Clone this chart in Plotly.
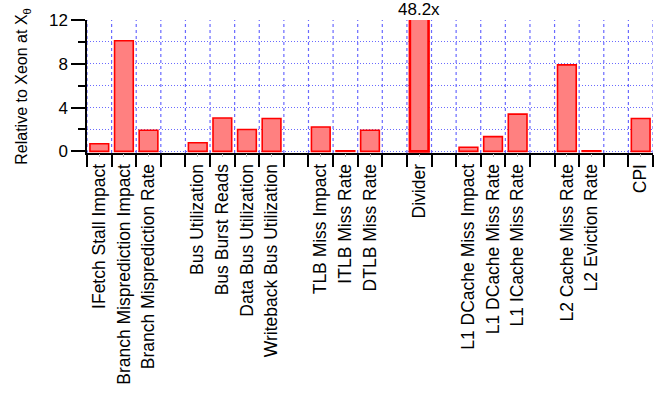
import plotly.graph_objects as go

categories = ["IFetch Stall Impact", "Branch Misprediction Impact", "Branch Misprediction Rate", "",
              "Bus Utilization", "Bus Burst Reads", "Data Bus Utilization", "Writeback Bus Utilization", "",
              "TLB Miss Impact", "ITLB Miss Rate", "DTLB Miss Rate", "",
              "Divider", "",
              "L1 DCache Miss Impact", "L1 DCache Miss Rate", "L1 ICache Miss Rate", "",
              "L2 Cache Miss Rate", "L2 Eviction Rate", "",
              "CPI"]
values = [0.7, 10.1, 1.93, None,
          0.78, 3.05, 2.0, 3.0, None,
          2.23, 0.05, 1.93, None,
          48.2, None,
          0.37, 1.35, 3.4, None,
          7.9, 0.05, None,
          3.0]
y_ticks = [0, 4, 8, 12]
divider_label = "48.2x"

font = "Liberation Sans, Arial, Helvetica, sans-serif"
grid = "#6a6aff"
gdash = "1px,2px"

n = len(categories)
positions = list(range(n))
label_pos = [i for i, c in enumerate(categories) if c]
label_txt = [c for c in categories if c]
boundaries = [i - 0.5 for i in range(n + 1)]
divider_x = categories.index("Divider")
xrange = [-0.5, n - 0.5]
yrange = [-0.15, 12]

line_widths = [2.6 if c == "Divider" else 1.6 for c in categories]

# vertical category-boundary grid lines, drawn behind the bars
gx, gy = [], []
for b in boundaries:
    gx += [b, b, None]
    gy += [yrange[0], yrange[1], None]

fig = go.Figure()
fig.add_trace(go.Scatter(
    x=gx, y=gy, mode="lines", line=dict(color=grid, width=1.2, dash="dot"),
    showlegend=False, hoverinfo="skip", xaxis="x", yaxis="y",
))
fig.add_trace(go.Bar(
    x=positions, y=values, width=0.76,
    marker=dict(color="#FF8080", line=dict(color="#FF0000", width=line_widths)),
    showlegend=False, xaxis="x", yaxis="y",
))
# invisible helper trace so that the label axis is drawn
fig.add_trace(go.Scatter(
    x=positions, y=[None] * n, mode="markers", showlegend=False,
    hoverinfo="skip", xaxis="x2", yaxis="y",
))
fig.add_annotation(x=divider_x, y=12, text=divider_label, showarrow=False,
                   yanchor="bottom", yshift=-1, font=dict(size=17, color="black", family=font))

fig.update_layout(
    width=667, height=396,
    margin=dict(l=87, r=14, t=20, b=243, autoexpand=False),
    plot_bgcolor="white", paper_bgcolor="white",
    font=dict(family=font, size=17, color="black"),
    xaxis=dict(
        range=xrange, automargin=False,
        tickmode="array", tickvals=boundaries, showticklabels=False,
        ticks="outside", ticklen=12, tickwidth=1.5, tickcolor="black",
        showline=True, linecolor="black", linewidth=1.5,
        showgrid=False, zeroline=False,
    ),
    xaxis2=dict(
        range=xrange, automargin=False, overlaying="x", side="bottom", anchor="y",
        tickmode="array", tickvals=label_pos, ticktext=label_txt,
        ticks="outside", ticklen=3, tickwidth=1, tickcolor="#bbbbbb",
        showline=False, showgrid=False, zeroline=False,
        tickangle=-90, tickfont=dict(size=17.5),
    ),
    yaxis=dict(
        range=yrange, tickvals=y_ticks, automargin=False,
        ticks="outside", ticklen=14, tickwidth=1.5, tickcolor="black",
        showline=True, linecolor="black", linewidth=1.5,
        showgrid=True, gridcolor=grid, griddash=gdash, gridwidth=1,
        zeroline=False,
        minor=dict(dtick=2, tick0=0, ticks="outside", ticklen=7, tickwidth=1.5, tickcolor="black",
                   showgrid=True, gridcolor=grid, griddash=gdash, gridwidth=1),
        title=dict(text="Relative to Xeon at X<sub>θ</sub>", font=dict(size=16), standoff=17),
        tickfont=dict(size=17),
    ),
)

fig.write_html("out.html")
